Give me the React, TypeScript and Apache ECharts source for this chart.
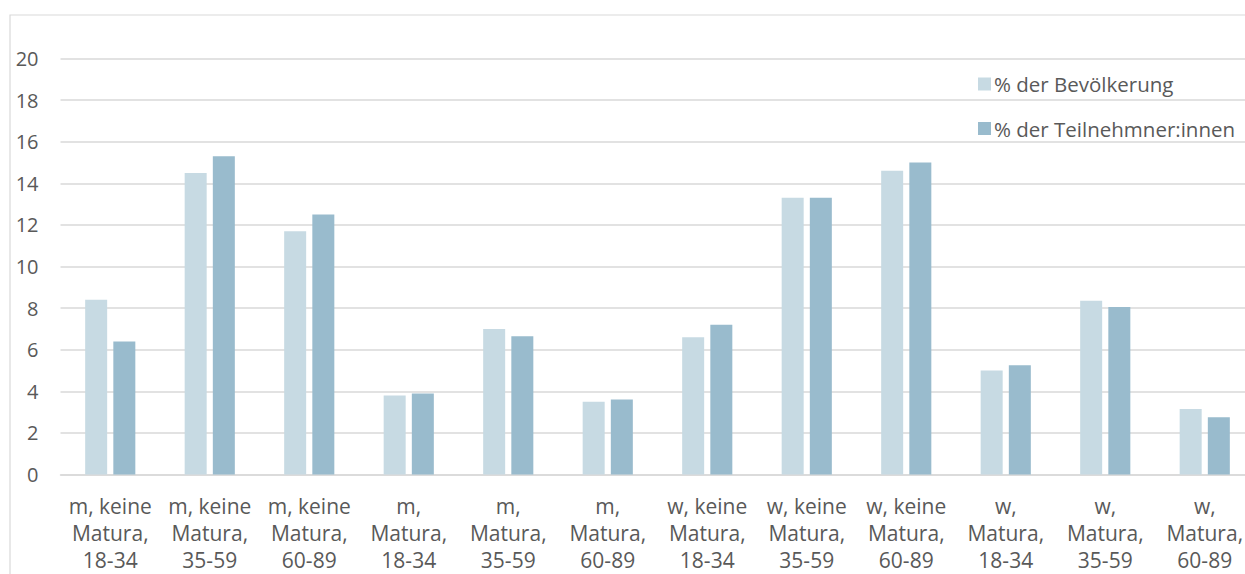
import React, { useEffect, useRef } from "react";
import * as echarts from "echarts";

const categories = [
  "m, keine\nMatura,\n18-34",
  "m, keine\nMatura,\n35-59",
  "m, keine\nMatura,\n60-89",
  "m,\nMatura,\n18-34",
  "m,\nMatura,\n35-59",
  "m,\nMatura,\n60-89",
  "w, keine\nMatura,\n18-34",
  "w, keine\nMatura,\n35-59",
  "w, keine\nMatura,\n60-89",
  "w,\nMatura,\n18-34",
  "w,\nMatura,\n35-59",
  "w,\nMatura,\n60-89",
];

const seriesNames = ["% der Bevölkerung", "% der Teilnehmner:innen"];
const bevoelkerung = [8.4, 14.5, 11.7, 3.8, 7.0, 3.5, 6.6, 13.3, 14.6, 5.0, 8.35, 3.15];
const teilnehmer = [6.4, 15.3, 12.5, 3.9, 6.65, 3.6, 7.2, 13.3, 15.0, 5.25, 8.05, 2.75];

const FONT = "Open Sans";
const TEXT = "#595959";
const GRID = "#D9D9D9";

export default function App() {
  const ref = useRef<HTMLDivElement>(null);
  useEffect(() => {
    if (!ref.current) return;
    const chart = echarts.init(ref.current, undefined, { renderer: "svg" });
    chart.setOption({
      animation: false,
      backgroundColor: "#ffffff",
      textStyle: { fontFamily: FONT, color: TEXT },
      graphic: [
        {
          type: "rect",
          silent: true,
          z: -10,
          shape: { x: 10, y: 15, width: 1400, height: 800 },
          style: { fill: "none", stroke: GRID, lineWidth: 1.2 },
        },
      ],
      grid: {
        left: 60.5,
        width: 1194,
        top: 58.5,
        bottom: 99.5,
        containLabel: false,
        outerBoundsMode: "none",
      },
      legend: {
        orient: "vertical",
        left: 973,
        top: 68.5,
        itemWidth: 13,
        itemHeight: 13,
        itemGap: 23.5,
        icon: "rect",
        textStyle: { fontFamily: FONT, fontSize: 20.5, color: TEXT, padding: [0, 0, 0, -2] },
        data: seriesNames,
      },
      xAxis: {
        type: "category",
        data: categories,
        axisLine: { lineStyle: { color: GRID, width: 1.5 } },
        axisTick: { show: false },
        axisLabel: {
          fontFamily: FONT,
          fontSize: 21,
          color: TEXT,
          lineHeight: 27,
          margin: 18,
          interval: 0,
          hideOverlap: false,
        },
      },
      yAxis: {
        type: "value",
        min: 0,
        max: 20,
        interval: 2,
        axisLine: { show: false },
        axisTick: { show: false },
        splitLine: { lineStyle: { color: GRID, width: 1.5 } },
        axisLabel: { fontFamily: FONT, fontSize: 20, color: TEXT, margin: 22 },
      },
      series: [
        {
          name: seriesNames[0],
          type: "bar",
          data: bevoelkerung,
          barWidth: 22,
          barGap: "28%",
          itemStyle: { color: "#C7DAE3" },
        },
        {
          name: seriesNames[1],
          type: "bar",
          data: teilnehmer,
          barWidth: 22,
          itemStyle: { color: "#99BBCD" },
        },
      ],
    });
    return () => chart.dispose();
  }, []);
  return (
    <div
      ref={ref}
      style={{ position: "absolute", left: 0, top: 0, width: 1245, height: 574 }}
    />
  );
}
